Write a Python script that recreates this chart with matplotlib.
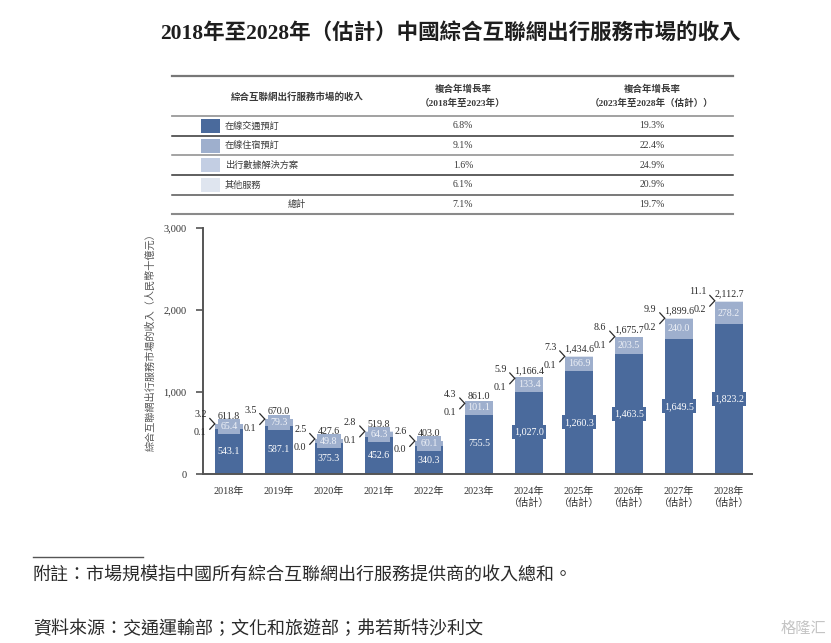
import matplotlib
matplotlib.use("Agg")
import matplotlib.pyplot as plt
from matplotlib.lines import Line2D
from matplotlib.patches import Rectangle
import numpy as np

plt.rcParams['font.family'] = ['Liberation Serif', 'Noto Sans CJK TC', 'DejaVu Sans']

# ---------------- data ----------------
years = ['2018年', '2019年', '2020年', '2021年', '2022年', '2023年',
         '2024年\n（估計）', '2025年\n（估計）', '2026年\n（估計）', '2027年\n（估計）', '2028年\n（估計）']
transport = [543.1, 587.1, 375.3, 452.6, 340.3, 755.5, 1027.0, 1260.3, 1463.5, 1649.5, 1823.2]
lodging = [65.4, 79.3, 49.8, 64.3, 60.1, 101.1, 133.4, 166.9, 203.5, 240.0, 278.2]
data_sol = [0.1, 0.1, 0.0, 0.1, 0.0, 0.1, 0.1, 0.1, 0.1, 0.2, 0.2]
others = [3.2, 3.5, 2.5, 2.8, 2.6, 4.3, 5.9, 7.3, 8.6, 9.9, 11.1]
totals = [611.8, 670.0, 427.6, 519.8, 403.0, 861.0, 1166.4, 1434.6, 1675.7, 1899.6, 2112.7]

series_names = ['在線交通預訂', '在線住宿預訂', '出行數據解決方案', '其他服務']
cagr_1823 = ['6.8%', '9.1%', '1.6%', '6.1%']
cagr_2328 = ['19.3%', '22.4%', '24.9%', '20.9%']
total_name = '總計'
total_cagr_1823 = '7.1%'
total_cagr_2328 = '19.7%'
yticks = [0, 1000, 2000, 3000]

colors = ['#4a6a9c', '#9eafcd', '#c3cee3', '#dfe5ef']

W, H = 831, 643
fig = plt.figure(figsize=(W / 100, H / 100), dpi=100)

def fx(px):
    return px / W

def fy(py):
    return 1 - py / H

# ---------------- title ----------------
fig.text(fx(450), fy(33), '2018年至2028年（估計）中國綜合互聯網出行服務市場的收入',
         ha='center', va='center', fontsize=15.5, fontweight='bold', color='#1e1e1e')

# ---------------- table ----------------
tl, tr = 172, 733
def hline(py, color, lw):
    fig.add_artist(Line2D([fx(tl), fx(tr)], [fy(py), fy(py)], color=color, lw=lw))

hline(76, '#777777', 1.6)
hline(116, '#9a9a9a', 1.3)
for py, c in zip([136, 155, 175, 195], ['#333333', '#8a8a8a', '#333333', '#555555']):
    hline(py, c, 1.1)
hline(214, '#8a8a8a', 1.5)

c1, c2, c3 = 297, 463, 652
tcol = '#3a3a3a'
hfs = 6.8
fig.text(fx(c1), fy(97), '綜合互聯網出行服務市場的收入', ha='center', va='center',
         fontsize=hfs, fontweight='bold', color=tcol)
fig.text(fx(c2), fy(89), '複合年增長率', ha='center', va='center', fontsize=hfs,
         fontweight='bold', color=tcol)
fig.text(fx(c2), fy(103), '（2018年至2023年）', ha='center', va='center', fontsize=hfs,
         fontweight='bold', color=tcol)
fig.text(fx(c3), fy(89), '複合年增長率', ha='center', va='center', fontsize=hfs,
         fontweight='bold', color=tcol)
fig.text(fx(c3), fy(103), '（2023年至2028年（估計））', ha='center', va='center', fontsize=hfs,
         fontweight='bold', color=tcol)

row_y = [126, 145.5, 165, 185]
for i, name in enumerate(series_names):
    y = row_y[i]
    fig.add_artist(Rectangle((fx(201), fy(y + 7)), fx(19), 14 / H, facecolor=colors[i],
                             edgecolor='none', transform=fig.transFigure))
    fig.text(fx(225), fy(y), name, ha='left', va='center', fontsize=6.6, color=tcol)
    fig.text(fx(c2), fy(y), cagr_1823[i], ha='center', va='center', fontsize=7, color=tcol)
    fig.text(fx(c3), fy(y), cagr_2328[i], ha='center', va='center', fontsize=7, color=tcol)
fig.text(fx(c1), fy(204.5), total_name, ha='center', va='center', fontsize=6.6, color=tcol)
fig.text(fx(c2), fy(204.5), total_cagr_1823, ha='center', va='center', fontsize=7, color=tcol)
fig.text(fx(c3), fy(204.5), total_cagr_2328, ha='center', va='center', fontsize=7, color=tcol)

# ---------------- chart ----------------
ax = fig.add_axes([fx(203), fy(474), fx(752) - fx(203), (474 - 228) / H])
x = np.arange(len(years))
bw = 0.57
t = np.array(transport)
l = np.array(lodging)
d = np.array(data_sol)
o = np.array(others)
ax.bar(x, t, bw, color=colors[0], zorder=2)
ax.bar(x, l, bw, bottom=t, color=colors[1], zorder=2)
ax.bar(x, d, bw, bottom=t + l, color=colors[2], zorder=2)
ax.bar(x, o, bw, bottom=t + l + d, color=colors[3], zorder=2)

ax.set_xlim(-0.52, 10.46)
ax.set_ylim(0, 3000)
ax.set_yticks(yticks)
ax.set_yticklabels([f'{v:,}' for v in yticks], fontsize=7.5, color='#333333')
ax.set_xticks(x)
ax.set_xticklabels(years, fontsize=7.3, color='#333333', linespacing=1.15)
ax.tick_params(axis='x', length=0, pad=9)
ax.tick_params(axis='y', length=5, width=1.2, color='#555555', pad=7)
for s in ['top', 'right']:
    ax.spines[s].set_visible(False)
for s in ['left', 'bottom']:
    ax.spines[s].set_color('#555555')
    ax.spines[s].set_linewidth(1.4)
ax.patch.set_alpha(0)

lab_fs = 7.2
for i in range(len(years)):
    # transport value
    ax.text(x[i], t[i] / 2, f'{transport[i]:,.1f}', ha='center', va='center',
            fontsize=lab_fs, color='white', zorder=4,
            bbox=dict(boxstyle='square,pad=0.25', facecolor=colors[0], edgecolor='none'))
    # lodging value
    ax.text(x[i], t[i] + l[i] / 2, f'{lodging[i]:,.1f}', ha='center', va='center',
            fontsize=lab_fs, color='#eef1f7', zorder=4,
            bbox=dict(boxstyle='square,pad=0.28', facecolor=colors[1], edgecolor='none'))
    # total
    ax.annotate(f'{totals[i]:,.1f}', xy=(x[i], totals[i]), xytext=(0, 2),
                textcoords='offset points', ha='center', va='bottom',
                fontsize=lab_fs, color='#2a2a2a', zorder=5)
    # bracket with small values
    apex = (x[i] - bw / 2, totals[i])
    ax.annotate(f'{others[i]:.1f}', xy=apex, xytext=(-6, 6.5), textcoords='offset points',
                ha='right', va='center', fontsize=lab_fs, color='#2a2a2a', zorder=5,
                arrowprops=dict(arrowstyle='-', color='#2a2a2a', lw=0.9, shrinkA=0.5,
                                shrinkB=0, relpos=(1, 0.5)))
    ax.annotate(f'{data_sol[i]:.1f}', xy=apex, xytext=(-6, -6.5), textcoords='offset points',
                ha='right', va='center', fontsize=lab_fs, color='#2a2a2a', zorder=5,
                arrowprops=dict(arrowstyle='-', color='#2a2a2a', lw=0.9, shrinkA=0.5,
                                shrinkB=0, relpos=(1, 0.5)))

fig.text(fx(150), fy(340), '綜合互聯網出行服務市場的收入（人民幣十億元）', rotation=90,
         ha='center', va='center', fontsize=7.3, color='#555555')

# ---------------- footnotes ----------------
fig.add_artist(Line2D([fx(33), fx(143)], [fy(557), fy(557)], color='#555555', lw=1.0))
fig.text(fx(33), fy(576), '附註：市場規模指中國所有綜合互聯網出行服務提供商的收入總和。',
         ha='left', va='center', fontsize=13, color='#2a2a2a', style='italic')
fig.text(fx(33), fy(629), '資料來源：交通運輸部；文化和旅遊部；弗若斯特沙利文',
         ha='left', va='center', fontsize=13, color='#2a2a2a', style='italic')
fig.text(fx(826), fy(629), '格隆汇', ha='right', va='center', fontsize=11, color='#c4c4c4')

fig.savefig('out.png', dpi=100)
